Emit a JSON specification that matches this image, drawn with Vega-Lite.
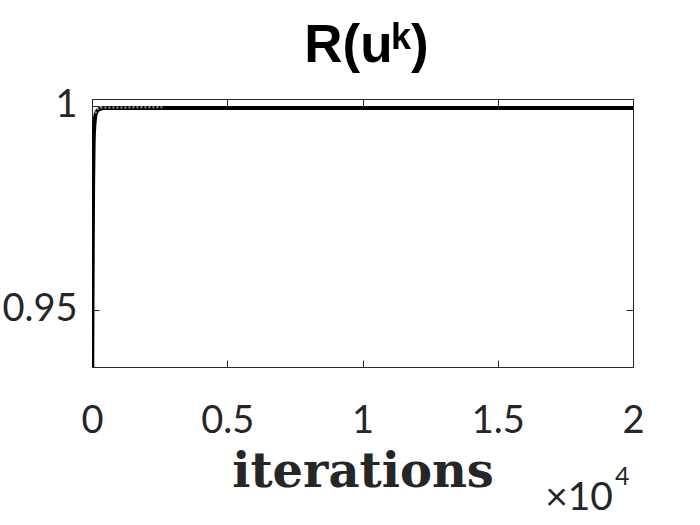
{
  "$schema": "https://vega.github.io/schema/vega-lite/v6.json",
  "autosize": "none",
  "width": 541,
  "height": 268,
  "padding": {"left": 92, "top": 99, "right": 67, "bottom": 158},
  "background": "white",
  "config": {
    "view": {"stroke": "#262626", "strokeWidth": 1},
    "font": "Lato"
  },
  "title": {
    "text": "R(uᵏ)",
    "font": "Liberation Sans",
    "fontWeight": "bold",
    "fontSize": 53,
    "color": "#000000",
    "offset": 14,
    "anchor": "middle",
    "dx": 4
  },
  "datasets": {
    "main": [
      {"iter": 0, "R": 0.92},
      {"iter": 20, "R": 0.955},
      {"iter": 40, "R": 0.98},
      {"iter": 60, "R": 0.991},
      {"iter": 90, "R": 0.9955},
      {"iter": 130, "R": 0.9978},
      {"iter": 200, "R": 0.9989},
      {"iter": 300, "R": 0.9993},
      {"iter": 450, "R": 0.9995},
      {"iter": 20000, "R": 0.9995}
    ],
    "overlay": [
      {"iter": 120, "R": 0.9982},
      {"iter": 200, "R": 0.9992},
      {"iter": 350, "R": 0.9996},
      {"iter": 2600, "R": 0.9997}
    ],
    "note": [
      {"iter": 20000, "R": 0.936, "part": "base", "label": "×10"},
      {"iter": 20000, "R": 0.936, "part": "exp", "label": "4"}
    ]
  },
  "layer": [
    {
      "data": {"name": "main"},
      "mark": {"type": "line", "color": "#000000", "strokeWidth": 4, "clip": true, "interpolate": "monotone"},
      "encoding": {
        "x": {
          "field": "iter", "type": "quantitative",
          "scale": {"domain": [0, 20000], "nice": false, "zero": false},
          "axis": {
            "orient": "bottom",
            "values": [0, 5000, 10000, 15000, 20000],
            "labelExpr": "format(datum.value / 10000, '~g')",
            "domain": false, "grid": false,
            "tickSize": -7, "tickColor": "#262626", "tickWidth": 1,
            "labelPadding": 42,
            "labelFont": "Lato", "labelFontSize": 38, "labelColor": "#262626",
            "labelBaseline": "top", "labelFlush": false, "labelOverlap": false,
            "title": "iterations",
            "titleFont": "DejaVu Serif", "titleFontWeight": "bold", "titleFontSize": 48,
            "titleColor": "#262626", "titlePadding": 8
          }
        },
        "y": {
          "field": "R", "type": "quantitative",
          "scale": {"domain": [0.936, 1.0017], "nice": false, "zero": false},
          "axis": {
            "orient": "left",
            "values": [0.95, 1],
            "labelExpr": "format(datum.value, '~g')",
            "domain": false, "grid": false,
            "tickSize": -7, "tickColor": "#262626", "tickWidth": 1,
            "labelPadding": 22,
            "labelFont": "Lato", "labelFontSize": 38, "labelColor": "#262626",
            "labelFlush": false, "labelOverlap": false,
            "title": null
          }
        }
      }
    },
    {
      "data": {"name": "overlay"},
      "mark": {"type": "line", "color": "#9a9a9a", "strokeWidth": 2, "strokeDash": [2, 2], "clip": true},
      "encoding": {
        "x": {
          "field": "iter", "type": "quantitative",
          "scale": {"domain": [0, 20000], "nice": false, "zero": false},
          "axis": {
            "orient": "top", "values": [0, 5000, 10000, 15000, 20000],
            "labels": false, "domain": false, "grid": false,
            "tickSize": -7, "tickColor": "#262626", "title": null
          }
        },
        "y": {
          "field": "R", "type": "quantitative",
          "scale": {"domain": [0.936, 1.0017], "nice": false, "zero": false},
          "axis": {
            "orient": "right", "values": [0.95, 1],
            "labels": false, "domain": false, "grid": false,
            "tickSize": -7, "tickColor": "#262626", "title": null
          }
        }
      }
    },
    {
      "data": {"name": "note"},
      "transform": [{"filter": "datum.part === 'base'"}],
      "mark": {"type": "text", "align": "right", "baseline": "alphabetic", "dx": -20, "dy": 143, "font": "Lato", "fontSize": 39, "color": "#262626", "clip": false},
      "encoding": {
        "x": {"field": "iter", "type": "quantitative", "scale": {"domain": [0, 20000], "nice": false, "zero": false}, "axis": null},
        "y": {"field": "R", "type": "quantitative", "scale": {"domain": [0.936, 1.0017], "nice": false, "zero": false}, "axis": null},
        "text": {"field": "label"}
      }
    },
    {
      "data": {"name": "note"},
      "transform": [{"filter": "datum.part === 'exp'"}],
      "mark": {"type": "text", "align": "left", "baseline": "alphabetic", "dx": -18, "dy": 118, "font": "Lato", "fontSize": 25, "color": "#262626", "clip": false},
      "encoding": {
        "x": {"field": "iter", "type": "quantitative", "scale": {"domain": [0, 20000], "nice": false, "zero": false}, "axis": null},
        "y": {"field": "R", "type": "quantitative", "scale": {"domain": [0.936, 1.0017], "nice": false, "zero": false}, "axis": null},
        "text": {"field": "label"}
      }
    }
  ],
  "resolve": {"axis": {"x": "independent", "y": "independent"}}
}
